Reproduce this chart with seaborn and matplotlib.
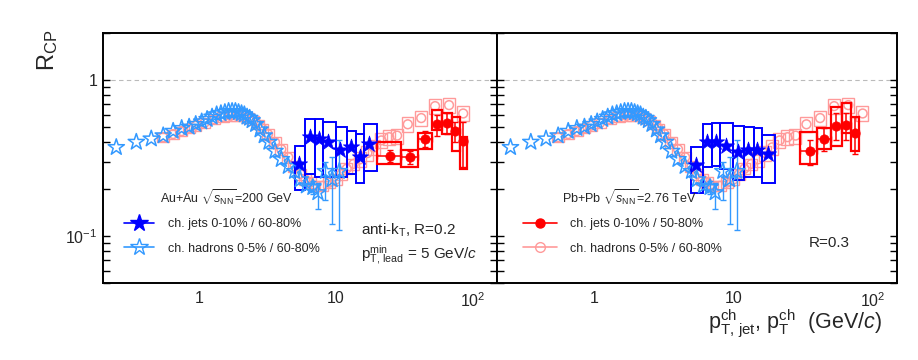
import numpy as np
import pandas as pd
import matplotlib
matplotlib.use("Agg")
import matplotlib.pyplot as plt
import seaborn as sns
from matplotlib.patches import Rectangle
from matplotlib.lines import Line2D
from matplotlib.ticker import FixedLocator, FixedFormatter, LogLocator, NullFormatter

# === STAR charged hadrons, Au+Au 0-5% / 60-80% ===
star_h_pt = [0.25, 0.35, 0.45, 0.55, 0.65, 0.75, 0.85, 0.95, 1.05, 1.15, 1.25, 1.35, 1.45,
             1.55, 1.65, 1.75, 1.85, 1.95, 2.05, 2.15, 2.25, 2.35, 2.45, 2.6, 2.8, 3.0, 3.25,
             3.6, 4.0, 4.5, 5.0, 5.5, 6.1, 6.8, 7.4, 8.4, 9.4, 10.6]
star_h_r = [0.37, 0.40, 0.42, 0.44, 0.47, 0.49, 0.50, 0.52, 0.54, 0.56, 0.58, 0.60, 0.61,
            0.62, 0.63, 0.63, 0.63, 0.62, 0.61, 0.60, 0.58, 0.57, 0.55, 0.52, 0.48, 0.44, 0.40,
            0.35, 0.31, 0.28, 0.26, 0.23, 0.21, 0.205, 0.19, 0.26, 0.23, 0.26]
star_h_elo = [0, 0, 0, 0, 0, 0, 0, 0, 0, 0, 0, 0, 0, 0, 0, 0, 0, 0, 0, 0, 0, 0, 0, 0, 0, 0, 0,
              0, 0, 0, 0, 0, 0.01, 0.02, 0.04, 0.09, 0.11, 0.15]
star_h_ehi = [0, 0, 0, 0, 0, 0, 0, 0, 0, 0, 0, 0, 0, 0, 0, 0, 0, 0, 0, 0, 0, 0, 0, 0, 0, 0, 0,
              0, 0, 0, 0, 0, 0.01, 0.02, 0.03, 0.04, 0.09, 0.15]

# === ALICE charged hadrons, Pb+Pb 0-5% / 60-80% ===
alice_h_pt = [0.55, 0.65, 0.75, 0.85, 0.95, 1.1, 1.3, 1.5, 1.7, 1.9, 2.1, 2.3, 2.5, 2.7, 2.9,
              3.2, 3.6, 4.0, 4.5, 5.0, 5.5, 6.0, 6.5, 7.0, 8.0, 9.0, 10.0, 11.0, 12.0, 13.5,
              15.0, 17.0, 19.0, 21.5, 24.5, 28.0, 33.5, 42.0, 53.0, 67.0, 85.0]
alice_h_r = [0.43, 0.45, 0.47, 0.49, 0.51, 0.53, 0.56, 0.58, 0.59, 0.59, 0.59, 0.57, 0.55, 0.52,
             0.49, 0.45, 0.40, 0.36, 0.32, 0.28, 0.25, 0.23, 0.22, 0.21, 0.21, 0.22, 0.23, 0.25,
             0.27, 0.29, 0.31, 0.34, 0.37, 0.41, 0.43, 0.44, 0.52, 0.57, 0.68, 0.69, 0.61]
alice_h_sys = [0.07, 0.07, 0.07, 0.07, 0.07, 0.07, 0.07, 0.07, 0.07, 0.07, 0.07, 0.07, 0.07,
               0.07, 0.07, 0.08, 0.08, 0.08, 0.08, 0.08, 0.08, 0.08, 0.08, 0.08, 0.08, 0.08,
               0.08, 0.08, 0.08, 0.08, 0.11, 0.11, 0.11, 0.11, 0.11, 0.11, 0.11, 0.11, 0.11,
               0.11, 0.11]

# === STAR charged jets 0-10% / 60-80% ===
star_j_edges = [5, 6, 7, 8, 10, 12, 14, 16, 20]
star_j_pt = [5.4, 6.5, 7.5, 8.8, 10.8, 12.8, 14.9, 17.6]
star_j02_r = [0.29, 0.43, 0.42, 0.40, 0.355, 0.37, 0.32, 0.39]
star_j02_top = [0.38, 0.56, 0.56, 0.54, 0.50, 0.47, 0.45, 0.52]
star_j02_bot = [0.197, 0.25, 0.24, 0.24, 0.24, 0.25, 0.22, 0.26]
star_j03_r = [0.285, 0.40, 0.40, 0.38, 0.347, 0.355, 0.355, 0.336]
star_j03_top = [0.37, 0.52, 0.53, 0.53, 0.51, 0.50, 0.49, 0.445]
star_j03_bot = [0.19, 0.275, 0.28, 0.27, 0.23, 0.24, 0.24, 0.22]

# === ALICE charged jets 0-10% / 50-80% ===
alice_j02_edges = [20, 30, 40, 50, 60, 70, 80, 90]
alice_j02_pt = [25, 35, 44.6, 55, 65, 73.6, 85]
alice_j02_r = [0.327, 0.32, 0.42, 0.52, 0.53, 0.47, 0.406]
alice_j02_err = [0.03, 0.03, 0.05, 0.08, 0.08, 0.07, 0.13]
alice_j02_top = [0.40, 0.356, 0.46, 0.64, 0.61, 0.58, 0.43]
alice_j02_bot = [0.29, 0.278, 0.36, 0.48, 0.45, 0.35, 0.27]

alice_j03_edges = [30, 40, 50, 60, 70, 80]
alice_j03_pt = [35.4, 44.6, 55, 65, 75]
alice_j03_r = [0.35, 0.42, 0.51, 0.515, 0.455]
alice_j03_err = [0.065, 0.07, 0.10, 0.10, 0.12]
alice_j03_top = [0.466, 0.49, 0.67, 0.71, 0.58]
alice_j03_bot = [0.29, 0.36, 0.38, 0.46, 0.35]

BLUE = "#0000ff"
LBLUE = "#3399ff"
RED = "#ff0000"
PINK = "#ff9a9a"

sns.set_theme(style="white")
plt.rcParams["font.family"] = ["Liberation Sans", "DejaVu Sans"]
plt.rcParams["mathtext.fontset"] = "custom"
plt.rcParams["mathtext.rm"] = "Liberation Sans"
plt.rcParams["mathtext.it"] = "Liberation Sans:italic"
plt.rcParams["mathtext.bf"] = "Liberation Sans:bold"


def boxes(ax, lo, hi, bot, top, color, lw, z):
    for x0, x1, b, t in zip(lo, hi, bot, top):
        ax.add_patch(Rectangle((x0, b), x1 - x0, t - b, fill=False, edgecolor=color,
                               linewidth=lw, zorder=z))


def draw_panel(ax, sj_r, sj_top, sj_bot, aj_edges, aj_pt, aj_r, aj_err, aj_top, aj_bot):
    ax.set_xscale("log")
    ax.set_yscale("log")
    ax.set_xlim(0.2, 150)
    ax.set_ylim(0.05, 2.0)

    # ALICE hadrons
    hpt = np.array(alice_h_pt)
    hr = np.array(alice_h_r)
    hs = np.array(alice_h_sys)
    boxes(ax, hpt * 0.9, hpt * 1.1, hr * (1 - hs), hr * (1 + hs), PINK, 1.0, 1)
    sns.scatterplot(x=alice_h_pt, y=alice_h_r, ax=ax, marker="o", s=40, color=PINK,
                    facecolor="none", edgecolor=PINK, linewidth=1.1, zorder=2)

    # STAR jets boxes
    e = star_j_edges
    boxes(ax, e[:-1], e[1:], sj_bot, sj_top, BLUE, 1.4, 3)

    # STAR hadrons
    elo = np.array(star_h_elo)
    ehi = np.array(star_h_ehi)
    m = (elo + ehi) > 0
    ax.errorbar(np.array(star_h_pt)[m], np.array(star_h_r)[m], yerr=[elo[m], ehi[m]],
                fmt="none", ecolor=LBLUE, elinewidth=1.0, capsize=2, zorder=4)
    sns.scatterplot(x=star_h_pt, y=star_h_r, ax=ax, marker="*", s=150, color=LBLUE,
                    facecolor="none", edgecolor=LBLUE, linewidth=1.1, zorder=4)

    # ALICE jets
    ae = aj_edges
    boxes(ax, ae[:-1], ae[1:], aj_bot, aj_top, RED, 1.6, 5)
    xlo = np.array(aj_pt) - np.array(ae[:-1])
    xhi = np.array(ae[1:]) - np.array(aj_pt)
    ax.errorbar(aj_pt, aj_r, yerr=aj_err, xerr=[xlo, xhi], fmt="none", ecolor=RED,
                elinewidth=1.1, capsize=2, zorder=6)
    sns.scatterplot(x=aj_pt, y=aj_r, ax=ax, marker="o", s=45, color=RED,
                    edgecolor=RED, linewidth=0.5, zorder=6)

    # STAR jets
    sns.scatterplot(x=star_j_pt, y=sj_r, ax=ax, marker="*", s=150, color=BLUE,
                    edgecolor=BLUE, linewidth=0.5, zorder=7)

    ax.axhline(1.0, color="#bbbbbb", lw=0.8, ls=(0, (4, 3)), zorder=0)

    ax.xaxis.set_major_locator(FixedLocator([1, 10, 100]))
    ax.xaxis.set_major_formatter(FixedFormatter(["1", "10", "$10^{2}$"]))
    ax.xaxis.set_minor_locator(LogLocator(base=10, subs=np.arange(2, 10), numticks=20))
    ax.xaxis.set_minor_formatter(NullFormatter())
    ax.yaxis.set_major_locator(FixedLocator([0.1, 1]))
    ax.yaxis.set_major_formatter(FixedFormatter(["$10^{-1}$", "1"]))
    ax.yaxis.set_minor_locator(LogLocator(base=10, subs=np.arange(2, 10), numticks=20))
    ax.yaxis.set_minor_formatter(NullFormatter())
    ax.tick_params(axis="both", which="both", direction="in", color="black",
                   labelsize=11.5, width=1.0)
    ax.tick_params(axis="x", which="major", length=6, pad=6)
    ax.tick_params(axis="x", which="minor", length=3)
    ax.tick_params(axis="y", which="both", length=5, left=True, right=True, pad=4)
    for sp in ax.spines.values():
        sp.set_color("black")
        sp.set_linewidth(1.4)
    ax.set_xlabel("")
    ax.set_ylabel("")


fig = plt.figure(figsize=(9.18, 3.6), dpi=100)
W, H = 918, 360
ax1 = fig.add_axes([103 / W, 77 / H, 394 / W, 250 / H])
ax2 = fig.add_axes([497 / W, 77 / H, 400 / W, 250 / H])

draw_panel(ax1, star_j02_r, star_j02_top, star_j02_bot, alice_j02_edges, alice_j02_pt,
           alice_j02_r, alice_j02_err, alice_j02_top, alice_j02_bot)
draw_panel(ax2, star_j03_r, star_j03_top, star_j03_bot, alice_j03_edges, alice_j03_pt,
           alice_j03_r, alice_j03_err, alice_j03_top, alice_j03_bot)
ax2.tick_params(axis="y", which="both", labelleft=False)

# legends
h1 = [Line2D([0], [0], color=BLUE, lw=1.2, marker="*", ms=13, mec=BLUE, mfc=BLUE),
      Line2D([0], [0], color=LBLUE, lw=1.2, marker="*", ms=13, mec=LBLUE, mfc="none")]
ax1.legend(h1, ["ch. jets 0-10% / 60-80%", "ch. hadrons 0-5% / 60-80%"],
           loc="upper left", bbox_to_anchor=(0.053, 0.26), frameon=False, fontsize=9,
           borderpad=0, borderaxespad=0, handlelength=2.38, handletextpad=1.15,
           labelspacing=1.0)
h2 = [Line2D([0], [0], color=RED, lw=1.2, marker="o", ms=6.5, mec=RED, mfc=RED),
      Line2D([0], [0], color=PINK, lw=1.2, marker="o", ms=7, mec=PINK, mfc="none")]
ax2.legend(h2, ["ch. jets 0-10% / 50-80%", "ch. hadrons 0-5% / 60-80%"],
           loc="upper left", bbox_to_anchor=(0.065, 0.26), frameon=False, fontsize=9,
           borderpad=0, borderaxespad=0, handlelength=2.7, handletextpad=1.07,
           labelspacing=1.0)

ax1.text(0.145, 0.34, r"Au+Au $\sqrt{s_{\rm NN}}$=200 GeV", transform=ax1.transAxes,
         fontsize=9, ha="left", va="center")
ax2.text(0.1625, 0.34, r"Pb+Pb $\sqrt{s_{\rm NN}}$=2.76 TeV", transform=ax2.transAxes,
         fontsize=9, ha="left", va="center")
ax1.text(0.655, 0.212, r"anti-k$_{\rm T}$, R=0.2", transform=ax1.transAxes,
         fontsize=11, ha="left", va="center")
ax1.text(0.655, 0.112, r"p$^{\rm min}_{\rm T,\,lead}$ = 5 GeV/$c$", transform=ax1.transAxes,
         fontsize=11, ha="left", va="center")
ax2.text(0.78, 0.16, "R=0.3", transform=ax2.transAxes, fontsize=11, ha="left", va="center")

fig.text(48 / W, 1 - 30 / H, r"R$_{\rm CP}$", rotation=90, ha="center", va="top", fontsize=17)
fig.text(882 / W, (H - 329) / H, r"p$^{\rm ch}_{\rm T,\,jet}$, p$^{\rm ch}_{\rm T}$  (GeV/$c$)",
         ha="right", va="baseline", fontsize=15.5)

fig.savefig("out.png", dpi=100)
